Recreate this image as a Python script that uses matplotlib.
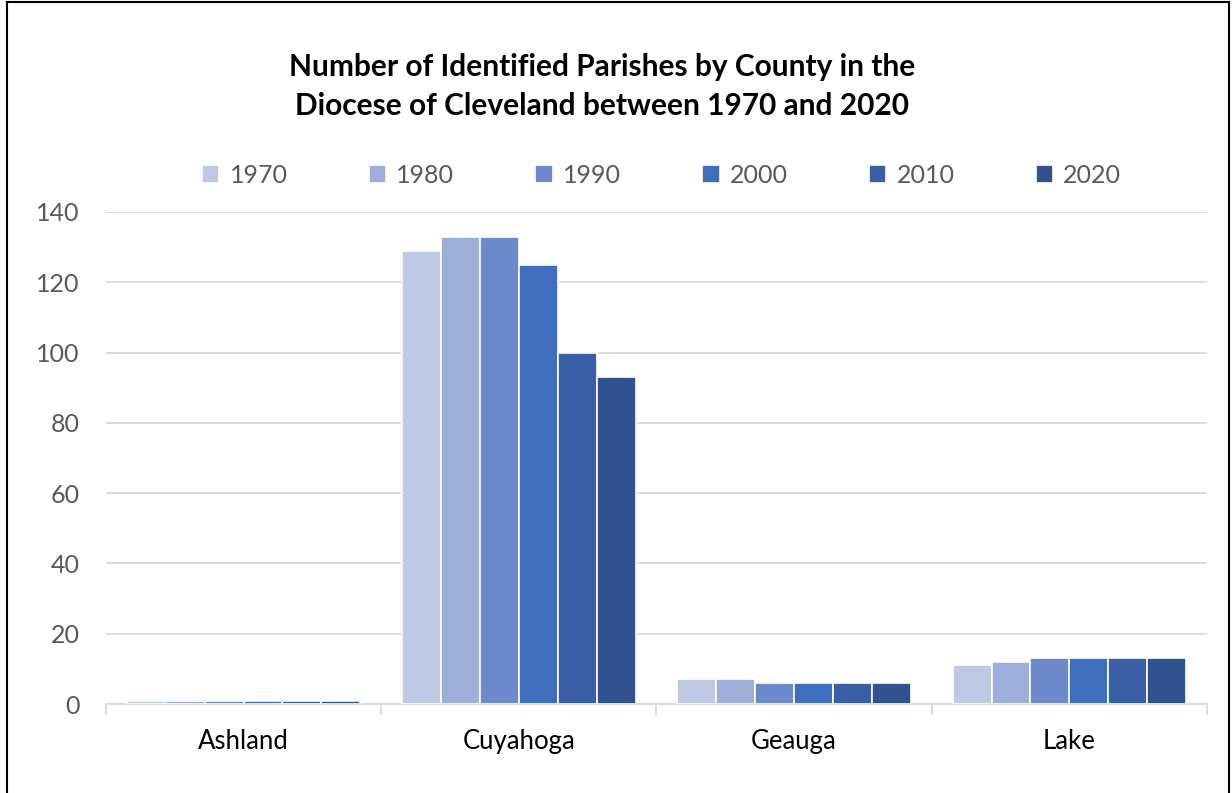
import matplotlib.pyplot as plt
import numpy as np
from matplotlib.patches import Rectangle

plt.rcParams['font.family'] = ['Lato', 'DejaVu Sans']

# data
counties = ['Ashland', 'Cuyahoga', 'Geauga', 'Lake']
years = ['1970', '1980', '1990', '2000', '2010', '2020']
ashland = [1, 1, 1, 1, 1, 1]
cuyahoga = [129, 133, 133, 125, 100, 93]
geauga = [7, 7, 6, 6, 6, 6]
lake = [11, 12, 13, 13, 13, 13]
colors = ['#BFC9E4', '#9FAED8', '#6D89CA', '#3F6EBC', '#3A5FA6', '#30528E']

values = np.array([ashland, cuyahoga, geauga, lake])  # county x year

fig = plt.figure(figsize=(12.32, 7.93), dpi=100)
ax = fig.add_axes([0.086, 0.1122, 0.8937, 0.6205])

x = np.arange(len(counties))
width = 0.1413
for j, year in enumerate(years):
    ax.bar(x + (j - 2.5) * width, values[:, j], width, color=colors[j],
           edgecolor='white', linewidth=1.2, label=year, zorder=3)

ax.set_xlim(-0.5, 3.5)
ax.set_ylim(0, 140)
ax.set_yticks(range(0, 141, 20))
ax.grid(axis='y', color='#D9D9D9', linewidth=1.3, zorder=0)
for s in ['top', 'right', 'left']:
    ax.spines[s].set_visible(False)
ax.spines['bottom'].set_color('#D9D9D9')
ax.spines['bottom'].set_linewidth(1.3)
ax.tick_params(axis='y', length=0, labelsize=18, labelcolor='#595959', pad=19)

# category ticks sit at the group boundaries
ax.set_xticks(np.arange(-0.5, 4, 1))
ax.set_xticklabels([])
ax.set_xticks(x, minor=True)
ax.set_xticklabels(counties, minor=True)
ax.tick_params(axis='x', which='major', length=8, width=1.3, color='#D9D9D9')
ax.tick_params(axis='x', which='minor', length=0, labelsize=18.5, labelcolor='black', pad=18)

fig.text(0.489, 0.891, 'Number of Identified Parishes by County in the\nDiocese of Cleveland between 1970 and 2020',
         ha='center', va='center', fontsize=21.5, fontweight='bold', linespacing=1.45)

fig.legend(loc='center', bbox_to_anchor=(0.537, 0.779), ncol=6, frameon=False,
           fontsize=18, labelcolor='#595959', handlelength=0.7, handleheight=0.7,
           handletextpad=0.4, columnspacing=3.25)

fig.patches.append(Rectangle((7 / 1232, -0.01), 1222 / 1232, 1.0075, transform=fig.transFigure,
                             fill=False, edgecolor='black', linewidth=1.5))

fig.savefig('out.png', dpi=100)
